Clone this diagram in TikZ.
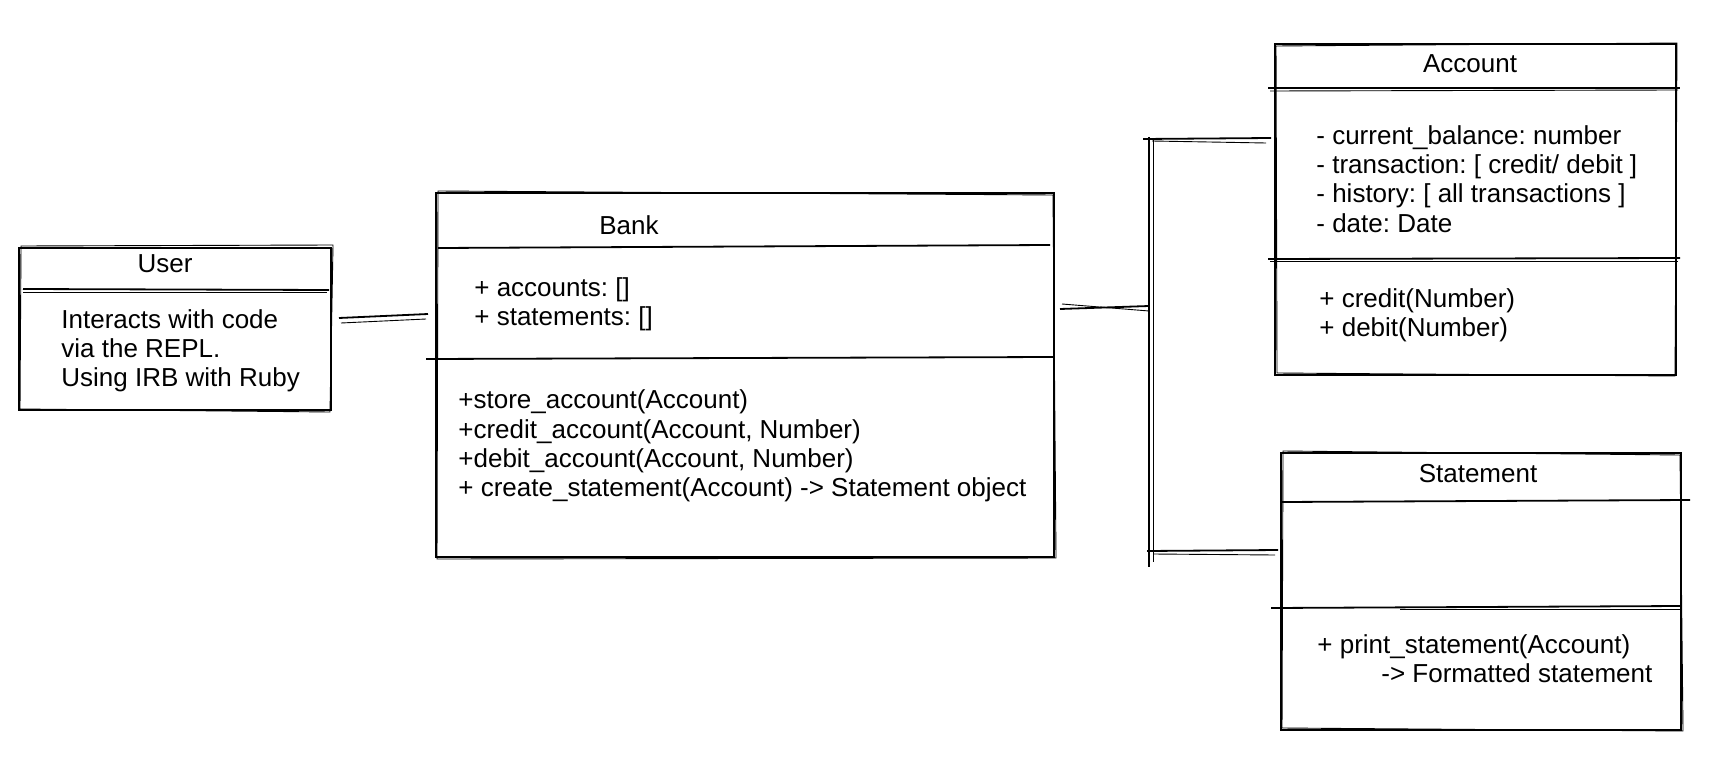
\documentclass[tikz,border=0pt]{standalone}
\usepackage{fontspec}
\setmainfont{Liberation Sans}
\usetikzlibrary{fit}
\frenchspacing
\begin{document}
\begin{tikzpicture}[x=0.5pt,y=-0.5pt,
  box/.style={draw,line width=0.9pt,inner sep=0pt},
  rough/.style={line width=0.45pt},
  ln/.style={line width=0.9pt},
  txt/.style={inner sep=0pt,align=left,font=\fontsize{13}{14.6}\selectfont,anchor=west},
  ttl/.style={inner sep=0pt,font=\fontsize{13}{14.6}\selectfont}]
\useasboundingbox (0,0) rectangle (1728,770);

% ---------- User ----------
\coordinate (u1) at (19,248); \coordinate (u2) at (331,410);
\node[box,fit=(u1)(u2)] (user) {};
\draw[rough] (21,246) -- (333,245) -- (330,412) -- (20,409) -- cycle;
\draw[ln] (23,289) -- (329,290);
\draw[rough] (23,292) -- (327,292);
\node[ttl] (usert) at (165,264) {User};
\node[txt] (userb) at (61,351) {Interacts with code\\via the REPL.\\Using IRB with Ruby};

% ---------- Bank ----------
\coordinate (b1) at (436,193); \coordinate (b2) at (1054,557);
\node[box,fit=(b1)(b2)] (bank) {};
\draw[rough] (438,191) -- (1053,195) -- (1056,558) -- (437,559) -- cycle;
\draw[ln] (438,248) -- (1050,245);
\draw[ln] (426,359) -- (1054,357);
\node[ttl] (bankt) at (629,225) {Bank};
\node[txt] (banka) at (474,304) {+ accounts: []\\+ statements: []};
\node[txt] (bankm) at (458,446) {+store\_account(Account)\\+credit\_account(Account, Number)\\+debit\_account(Account, Number)\\+ create\_statement(Account) -> Statement object};

% ---------- Account ----------
\coordinate (a1) at (1275,44); \coordinate (a2) at (1676,375);
\node[box,fit=(a1)(a2)] (account) {};
\draw[rough] (1276,46) -- (1677,43) -- (1675,376) -- (1277,373) -- cycle;
\draw[ln] (1268,88) -- (1680,88);
\draw[rough] (1270,91) -- (1678,90);
\draw[ln] (1268,259) -- (1680,258);
\draw[rough] (1270,261) -- (1678,261);
\node[ttl] (accountt) at (1470,64) {Account};
\node[txt] (accounta) at (1316,179) {- current\_balance: number\\- transaction: [ credit/ debit ]\\- history: [ all transactions ]\\- date: Date};
\node[txt] (accountm) at (1319,315) {+ credit(Number)\\+ debit(Number)};

% ---------- Statement ----------
\coordinate (s1) at (1281,453); \coordinate (s2) at (1681,730);
\node[box,fit=(s1)(s2)] (statement) {};
\draw[rough] (1283,451) -- (1680,455) -- (1683,731) -- (1282,728) -- cycle;
\draw[ln] (1281,502) -- (1690,500);
\draw[ln] (1271,608) -- (1681,606);
\draw[rough] (1400,609) -- (1680,609);
\node[ttl] (statementt) at (1478,474) {Statement};
\node[txt] (statementm) at (1317,659) {+ print\_statement(Account)\\\hspace*{32pt}-> Formatted statement};

% ---------- Connectors ----------
\coordinate (ubA) at (339,318); \coordinate (ubB) at (428,314);
\draw[ln] (ubA) -- (ubB);
\draw[rough] (341,323) -- (426,319);

\coordinate (busTop) at (1149,137); \coordinate (busBot) at (1149,567);
\draw[ln] (busTop) -- (busBot);
\draw[rough] (1153,140) -- (1153,562);

\coordinate (bbA) at (1060,309); \coordinate (bbB) at (1149,306);
\draw[ln] (bbA) -- (bbB);
\draw[rough] (1062,304) -- (1149,311);

\coordinate (baA) at (1143,139); \coordinate (baB) at (1271,138);
\draw[ln] (baA) -- (baB);
\draw[rough] (1152,141) -- (1266,143);

\coordinate (bsA) at (1147,551); \coordinate (bsB) at (1278,550);
\draw[ln] (bsA) -- (bsB);
\draw[rough] (1153,554) -- (1275,555);
\end{tikzpicture}
\end{document}
